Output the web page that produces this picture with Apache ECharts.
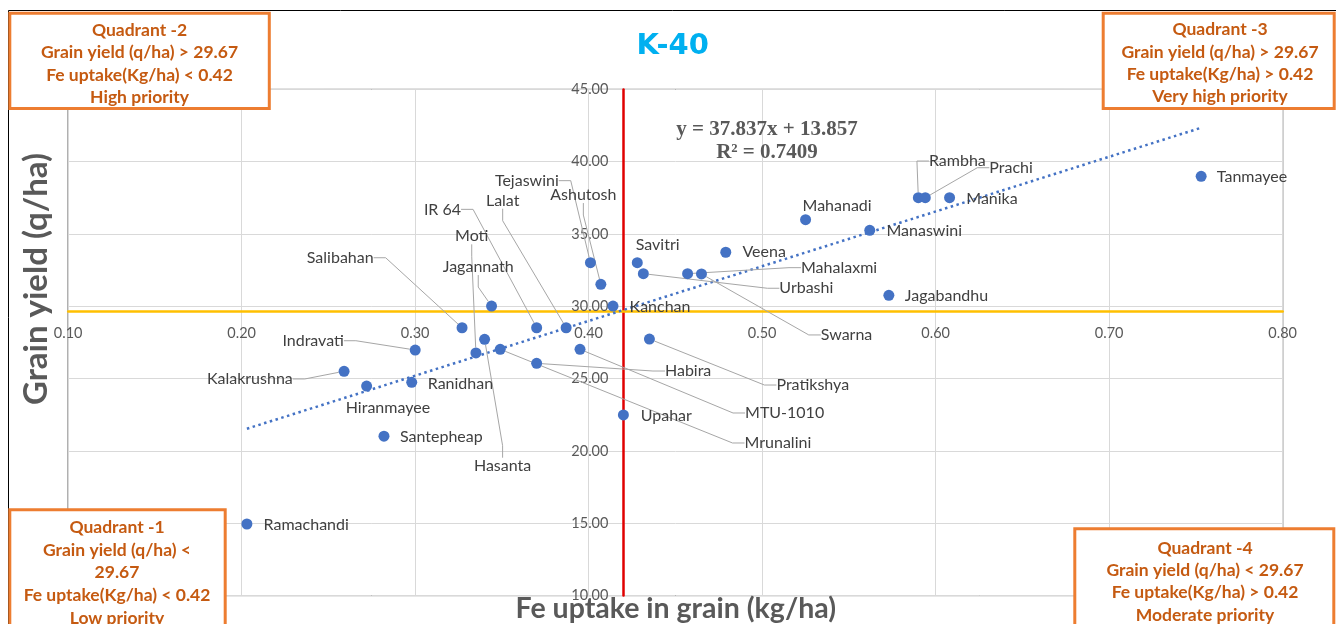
<!DOCTYPE html>
<html><head><meta charset="utf-8">
<script src="https://cdn.jsdelivr.net/npm/echarts@6/dist/echarts.min.js"></script>
<style>html,body{margin:0;padding:0;background:#fff}#c{width:1336px;height:624px}</style>
</head><body><div id="c"></div>
<script>
// ---- data ----
const varieties = ['Ramachandi','Santepheap','Hiranmayee','Kalakrushna','Ranidhan','Indravati','Salibahan','Jagannath','Hasanta','Moti','Mrunalini','IR 64','Habira','Lalat','MTU-1010','Tejaswini','Ashutosh','Kanchan','Upahar','Savitri','Urbashi','Pratikshya','Mahalaxmi','Swarna','Veena','Mahanadi','Manaswini','Jagabandhu','Rambha','Prachi','Manika','Tanmayee'];
const feUptake   = [0.203,0.282,0.272,0.259,0.298,0.300,0.327,0.344,0.340,0.335,0.349,0.370,0.370,0.387,0.395,0.401,0.407,0.414,0.420,0.428,0.4315,0.435,0.457,0.465,0.479,0.525,0.562,0.573,0.590,0.594,0.608,0.753];
const grainYield = [14.95,21.02,24.49,25.51,24.75,26.98,28.52,30.02,27.72,26.78,27.03,28.52,26.06,28.52,27.03,33.02,31.52,30.02,22.49,33.02,32.26,27.74,32.26,32.24,33.74,35.99,35.26,30.76,37.51,37.51,37.51,38.99];
const xAxisRange = [0.10, 0.80, 0.10];
const yAxisRange = [10, 45, 5];
const feThreshold = 0.42;
const yieldThreshold = 29.67;
const trendCoef = [37.837, 13.857];
const trendText = ['y = 37.837x + 13.857', 'R² = 0.7409'];
const chartTitle = 'K-40';
const xTitle = 'Fe uptake in grain (kg/ha)';
const yTitle = 'Grain yield (q/ha)';
const quadrant1 = ['Quadrant -1','Grain yield (q/ha) <','29.67','Fe uptake(Kg/ha) < 0.42','Low priority'];
const quadrant2 = ['Quadrant -2','Grain yield (q/ha) > 29.67','Fe uptake(Kg/ha) < 0.42','High priority'];
const quadrant3 = ['Quadrant -3','Grain yield (q/ha) > 29.67','Fe uptake(Kg/ha) > 0.42','Very high priority'];
const quadrant4 = ['Quadrant -4','Grain yield (q/ha) < 29.67','Fe uptake(Kg/ha) > 0.42','Moderate priority'];

// ---- layout (label placement relative to point: dx, dy, align, leader) ----
const labelPlace = {
  'Ramachandi':[16.7,1,'left',0], 'Santepheap':[16,1,'left',0], 'Hiranmayee':[21.3,22.3,'center',0],
  'Kalakrushna':[-51.3,7.7,'right',1], 'Ranidhan':[16,1.4,'left',0], 'Indravati':[-71.3,-9.3,'right',1],
  'Salibahan':[-88.4,-70,'right',1], 'Jagannath':[-13.3,-39,'center',1], 'Hasanta':[18,126.4,'center',1],
  'Moti':[-4.2,-116.6,'center',1], 'Mrunalini':[244.3,93.7,'left',1], 'IR 64':[-75.6,-118.4,'right',1],
  'Habira':[128.3,7.7,'left',1], 'Lalat':[-46.7,-127,'right',1], 'MTU-1010':[165,63.7,'left',1],
  'Tejaswini':[-31.7,-82,'right',1], 'Ashutosh':[-17.5,-89.3,'center',1], 'Kanchan':[16.6,0.7,'left',0],
  'Upahar':[17.3,1,'left',0], 'Savitri':[20.4,-17.7,'center',0], 'Urbashi':[136,14.6,'left',1],
  'Pratikshya':[127,46,'left',1], 'Mahalaxmi':[113.4,-6,'left',1], 'Swarna':[119.3,61,'left',1],
  'Veena':[16.7,0,'left',0], 'Mahanadi':[31.5,-14,'center',0], 'Manaswini':[16.7,0.7,'left',0],
  'Jagabandhu':[16,0.7,'left',0], 'Rambha':[39,-36.7,'center',1], 'Prachi':[64,-30,'left',1],
  'Manika':[16.7,1.3,'left',0], 'Tanmayee':[15.7,0.4,'left',0]
};

const W = 1336, H = 624;
const grid = {left: 68.2, right: 53.3, top: 89.4, bottom: 28.4};
const gridW = W - grid.left - grid.right, gridH = H - grid.top - grid.bottom;
const xOffset = -gridH * (yieldThreshold - yAxisRange[0]) / (yAxisRange[1] - yAxisRange[0]);
const yOffset = -gridW * (feThreshold - xAxisRange[0]) / (xAxisRange[1] - xAxisRange[0]);

const points = varieties.map((n, i) => {
  const lp = labelPlace[n];
  return {name: n, value: [feUptake[i], grainYield[i]], labelLine: {show: !!lp[3]}};
});
const xMinData = Math.min(...feUptake), xMaxData = Math.max(...feUptake);
const trendData = [[xMinData, trendCoef[0]*xMinData + trendCoef[1]], [xMaxData, trendCoef[0]*xMaxData + trendCoef[1]]];

const boxFont = 'bold 17.5px Lato';
const boxColor = '#C55A11';
function box(x, y, w, h, lines, cx, cy, lh) {
  return {type: 'group', children: [
    {type: 'rect', z: 50, silent: true, shape: {x: x, y: y, width: w, height: h}, style: {fill: '#fff', stroke: '#ED7D31', lineWidth: 3}},
    {type: 'text', z: 51, silent: true, x: cx, y: cy, style: {text: lines.join('\n'), font: boxFont, fill: boxColor, align: 'center', verticalAlign: 'middle', lineHeight: lh}}
  ]};
}

const chart = echarts.init(document.getElementById('c'), null, {renderer: 'canvas', width: W, height: H});
chart.setOption({
  animation: false,
  backgroundColor: '#fff',
  grid: Object.assign({show: true, borderColor: '#000', borderWidth: 1, backgroundColor: 'transparent', containLabel: false, outerBoundsMode: 'none'}, grid),
  xAxis: {
    type: 'value', min: xAxisRange[0], max: xAxisRange[1], interval: xAxisRange[2],
    position: 'bottom', offset: xOffset,
    axisLine: {show: true, onZero: false, lineStyle: {color: '#FFC000', width: 2.5}},
    axisTick: {show: false},
    axisLabel: {formatter: v => v.toFixed(2), color: '#595959', fontFamily: 'Lato', fontSize: 14.5, margin: 15},
    splitLine: {show: true, lineStyle: {color: '#D9D9D9', width: 1}}
  },
  yAxis: {
    type: 'value', min: yAxisRange[0], max: yAxisRange[1], interval: yAxisRange[2],
    position: 'left', offset: yOffset,
    axisLine: {show: true, onZero: false, lineStyle: {color: '#E00000', width: 2.5}},
    axisTick: {show: false},
    axisLabel: {formatter: v => v.toFixed(2), color: '#595959', fontFamily: 'Lato', fontSize: 14.5, margin: 15},
    splitLine: {show: true, lineStyle: {color: '#D9D9D9', width: 1}}
  },
  series: [
    {type: 'line', data: trendData, symbol: 'none', silent: true, z: 3,
     lineStyle: {color: '#4472C4', width: 2.5, type: [2.5, 3.5]}},
    {type: 'scatter', data: points, symbolSize: 11, z: 4, silent: true,
     itemStyle: {color: '#4472C4', opacity: 1},
     label: {show: true, formatter: p => p.name, position: 'right', color: '#404040', fontFamily: 'Lato', fontSize: 16},
     labelLine: {show: false, length2: 12, lineStyle: {color: '#A6A6A6', width: 1}},
     labelLayout: function (p) {
       const n = varieties[p.dataIndex];
       const lp = labelPlace[n];
       const cx = p.rect.x + p.rect.width / 2, cy = p.rect.y + p.rect.height / 2;
       return {x: cx + lp[0], y: cy + lp[1], align: lp[2], verticalAlign: 'middle'};
     },
     emphasis: {disabled: true}}
  ],
  graphic: [
    {type: 'rect', z: 40, silent: true, shape: {x: 8.5, y: 10.5, width: 1400, height: 700}, style: {fill: 'none', stroke: '#000', lineWidth: 1}},
    {type: 'text', z: 60, x: 672.7, y: 46.7, style: {text: chartTitle, font: 'bold 29px "DejaVu Sans"', fill: '#00B0F0', align: 'center', verticalAlign: 'middle'}},
    {type: 'text', z: 60, x: 767, y: 141.4, style: {text: trendText.join('\n'), font: 'bold 21px "Liberation Serif"', fill: '#595959', align: 'center', verticalAlign: 'middle', lineHeight: 22.7}},
    {type: 'text', z: 60, x: 675.8, y: 609, style: {text: xTitle, font: 'bold 28.5px Lato', fill: '#595959', align: 'center', verticalAlign: 'middle'}},
    {type: 'text', z: 60, x: 36, y: 279, rotation: Math.PI / 2, style: {text: yTitle, font: 'bold 33px Lato', fill: '#595959', align: 'center', verticalAlign: 'middle'}},
    box(9.8, 13.2, 259.5, 95.3, quadrant2, 139.5, 63.7, 22.4),
    box(1103.2, 13.2, 231, 95.3, quadrant3, 1220, 63, 22.2),
    box(9.8, 509.8, 215.4, 130, quadrant1, 117, 572.8, 22.75),
    box(1074.8, 528.8, 259, 120, quadrant4, 1205, 581.7, 22.2)
  ]
});
</script></body></html>
